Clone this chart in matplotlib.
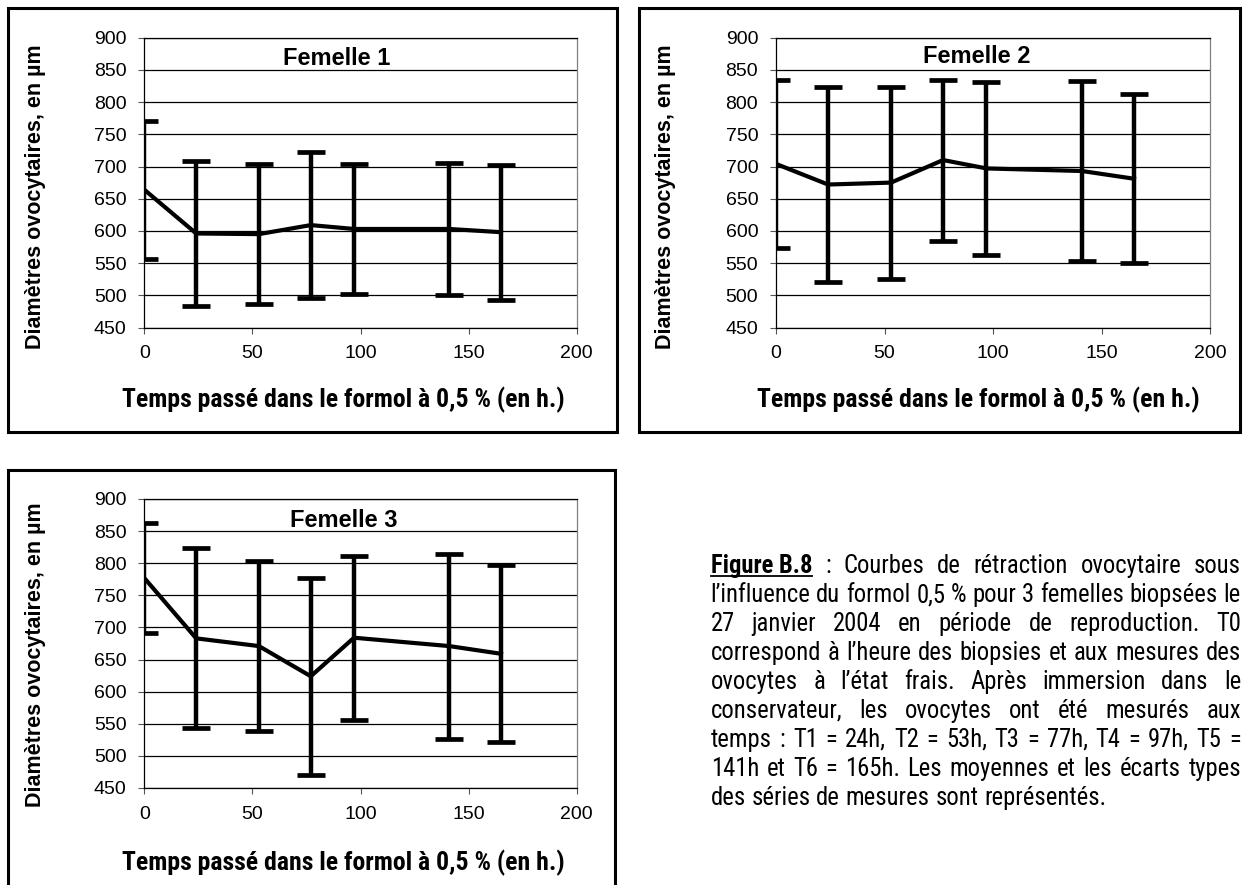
import matplotlib
matplotlib.use('Agg')
import matplotlib.pyplot as plt
from matplotlib import font_manager as fm
from matplotlib.font_manager import FontProperties
from matplotlib.patches import Rectangle
from matplotlib.lines import Line2D

# ---------------- data ----------------
hours = [0, 24, 53, 77, 97, 141, 165]

f1_mean = [664, 596, 595, 609, 603, 603, 598]
f1_sd = [107, 113, 109, 113, 101, 103, 105]

f2_mean = [704, 672, 675, 710, 697, 693, 681]
f2_sd = [131, 152, 149, 125, 134, 139, 131]

f3_mean = [777, 683, 671, 624, 684, 671, 659]
f3_sd = [86, 140, 133, 153, 128, 144, 138]

titles = ['Femelle 1', 'Femelle 2', 'Femelle 3']
y_label = 'Diamètres ovocytaires, en µm'
x_label = 'Temps passé dans le formol à 0,5 % (en h.)'
x_ticks = [0, 50, 100, 150, 200]
y_ticks = [450, 500, 550, 600, 650, 700, 750, 800, 850, 900]

caption_lead = 'Figure B.8'
caption_lines = [
    'Figure B.8 : Courbes de rétraction ovocytaire sous',
    'l’influence du formol 0,5 % pour 3 femelles biopsées le',
    '27 janvier 2004 en période de reproduction. T0',
    'correspond à l’heure des biopsies et aux mesures des',
    'ovocytes à l’état frais. Après immersion dans le',
    'conservateur, les ovocytes ont été mesurés aux',
    'temps : T1 = 24h, T2 = 53h, T3 = 77h, T4 = 97h, T5 =',
    '141h et T6 = 165h. Les moyennes et les écarts types',
    'des séries de mesures sont représentés.',
]

# ---------------- fonts ----------------
SANS = 'Liberation Sans'


def _weight(f):
    w = f.weight
    if isinstance(w, str):
        w = fm.weight_dict.get(w, 400)
    return w


def pick_narrow(bold):
    target = 700 if bold else 400
    prio = ['Liberation Sans', 'Arial', 'Roboto', 'Noto Sans', 'Open Sans',
            'DejaVu Sans', 'Lato', 'Inter']
    best = None
    for f in fm.fontManager.ttflist:
        n = f.name
        low = n.lower()
        if 'mono' in low or 'serif' in low or 'cjk' in low or f.style != 'normal':
            continue
        narrow = (f.stretch in ('condensed', 'semi-condensed', 'extra-condensed')
                  or 'narrow' in low or 'condensed' in low)
        if not narrow:
            continue
        p = next((i for i, pre in enumerate(prio) if n.startswith(pre)), None)
        if p is None:
            continue
        w = _weight(f)
        if abs(w - target) > 150:
            continue
        key = (p, abs(w - target))
        if best is None or key < best[0]:
            best = (key, f.fname)
    return best[1] if best else None


NARROW_REG = pick_narrow(False)
NARROW_BOLD = pick_narrow(True)


def nprop(size, bold=False):
    path = NARROW_BOLD if bold else NARROW_REG
    if path:
        return FontProperties(fname=path, size=size)
    return FontProperties(family=SANS, weight='bold' if bold else 'normal', size=size)


# ---------------- figure ----------------
W, H = 1246, 885
fig = plt.figure(figsize=(W / 100, H / 100), dpi=100)
fig.patch.set_facecolor('white')
renderer = fig.canvas.get_renderer()


def fx(px):
    return px / W


def fy(py):
    return 1 - py / H


def text_width(s, prop):
    t = fig.text(0, 0, s, fontproperties=prop)
    w = t.get_window_extent(renderer).width
    t.remove()
    return w


# panel frames (px: left, top, right, bottom)
frames = [(7.5, 8, 617, 432), (639, 8, 1240, 432), (7.5, 470, 615, 890)]
for (l, t, r, b) in frames:
    fig.add_artist(Rectangle((fx(l), fy(b)), fx(r) - fx(l), fy(t) - fy(b),
                             transform=fig.transFigure, fill=False,
                             ec='black', lw=2.2, clip_on=False))

axes_px = [(144.3, 37.7, 576.7, 327.5), (776, 37.7, 1210, 327.5), (144.3, 499, 576.7, 788)]
title_pos = [(0.445, 0.928), (0.462, 0.935), (0.461, 0.927)]
ylabel_pos = [(35.5, 197), (665.5, 197), (35.5, 655)]
xlabel_pos = [(343, 400), (978, 400), (343, 863)]

series = [(f1_mean, f1_sd), (f2_mean, f2_sd), (f3_mean, f3_sd)]

# x-label font size fitted to the ~443 px width of the original label
xl_size = 17 * 443 / text_width(x_label, nprop(17, True))
xl_prop = nprop(xl_size, True)

for i, ((l, t, r, b), (mean, sd)) in enumerate(zip(axes_px, series)):
    ax = fig.add_axes([fx(l), fy(b), fx(r) - fx(l), fy(t) - fy(b)])
    ax.set_xlim(0, 200)
    ax.set_ylim(450, 900)
    ax.set_xticks(x_ticks)
    ax.set_yticks(y_ticks)
    ax.set_xticklabels([str(v) for v in x_ticks], fontfamily=SANS, fontsize=14)
    ax.set_yticklabels([str(v) for v in y_ticks], fontfamily=SANS, fontsize=14)
    ax.yaxis.grid(True, color='black', lw=0.9)
    ax.set_axisbelow(True)
    ax.tick_params(axis='both', direction='out', length=4.3, width=0.8, color='#555555')
    ax.tick_params(axis='x', pad=8.5)
    ax.tick_params(axis='y', pad=8.5)
    for side in ('left', 'bottom', 'top'):
        ax.spines[side].set_color('black')
        ax.spines[side].set_linewidth(0.9)
    ax.spines['right'].set_color('#808080')
    ax.spines['right'].set_linewidth(0.9)

    ax.errorbar(hours, mean, yerr=sd, color='black', lw=3.0,
                elinewidth=3.2, capsize=10, capthick=3.4)

    ax.text(title_pos[i][0], title_pos[i][1], titles[i], transform=ax.transAxes,
            ha='center', va='center', fontfamily=SANS, fontweight='bold', fontsize=17)

    fig.text(fx(ylabel_pos[i][0]), fy(ylabel_pos[i][1]), y_label, rotation=90,
             ha='center', va='center', fontfamily=SANS, fontweight='bold', fontsize=15.5)
    fig.text(fx(xlabel_pos[i][0]), fy(xlabel_pos[i][1]), x_label,
             ha='center', va='center', fontproperties=xl_prop)

# ---------------- caption (justified) ----------------
cx0, cx1 = 710.7, 1241
line0, line_step = 566, 29


def line_tokens(k, line):
    if k == 0 and line.startswith(caption_lead):
        rest = line[len(caption_lead):].split()
        return [(caption_lead, True)] + [(w, False) for w in rest]
    return [(w, False) for w in line.split()]


def natural_width(tokens, size):
    sp = text_width('a a', nprop(size)) - text_width('aa', nprop(size))
    return sum(text_width(w, nprop(size, b)) for w, b in tokens) + sp * (len(tokens) - 1)


# size fitted so that the last (unjustified) line spans ~392 px as in the original
last_tokens = line_tokens(len(caption_lines) - 1, caption_lines[-1])
cap_size = 17 * 392 / natural_width(last_tokens, 17)
mx = max(natural_width(line_tokens(k, ln), cap_size) for k, ln in enumerate(caption_lines))
if mx > (cx1 - cx0):
    cap_size = cap_size * (cx1 - cx0) / mx * 0.995

space_w = text_width('a a', nprop(cap_size)) - text_width('aa', nprop(cap_size))

for k, line in enumerate(caption_lines):
    toks = line_tokens(k, line)
    widths = [text_width(w, nprop(cap_size, b)) for w, b in toks]
    total = sum(widths)
    last = (k == len(caption_lines) - 1)
    if last or len(toks) == 1:
        gap = space_w
    else:
        gap = (cx1 - cx0 - total) / (len(toks) - 1)
    base = line0 + k * line_step + 7
    x = cx0
    for (w, b), wd in zip(toks, widths):
        fig.text(fx(x), fy(base), w, ha='left', va='baseline',
                 fontproperties=nprop(cap_size, b))
        if b:
            fig.add_artist(Line2D([fx(x), fx(x + wd)], [fy(base + 3), fy(base + 3)],
                                  transform=fig.transFigure, color='black', lw=1.3))
        x += wd + gap

fig.savefig('out.png', dpi=100, facecolor='white')
